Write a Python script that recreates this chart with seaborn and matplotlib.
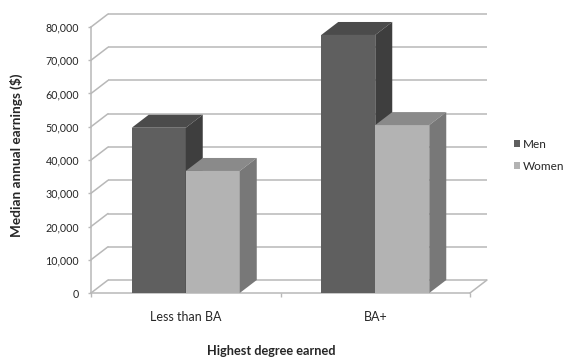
import numpy as np
import pandas as pd
import matplotlib
matplotlib.use('Agg')
import matplotlib.pyplot as plt
from matplotlib.patches import Polygon, Patch
import seaborn as sns

# chart data
degrees = ['Less than BA', 'BA+']
men = [49700, 77600]
women = [36700, 50500]
y_ticks = list(range(0, 80001, 10000))

FRONT = ['#5f5f5f', '#b3b3b3']
TOP = ['#4b4b4b', '#8a8a8a']
SIDE = ['#3e3e3e', '#787878']
GRID = '#b8b8b8'
TEXT = '#262626'

df = pd.DataFrame({'degree': degrees * 2,
                   'sex': ['Men'] * 2 + ['Women'] * 2,
                   'earnings': men + women})

sns.set_style('white')
plt.rcParams['font.family'] = ['Lato', 'DejaVu Sans']

fig = plt.figure(figsize=(5.64, 3.6), dpi=100)
ax = fig.add_axes([91 / 564, 1 - 293 / 360, 379 / 564, 266 / 360])

sns.barplot(data=df, x='degree', y='earnings', hue='sex', palette=FRONT,
            saturation=1, width=0.57, ax=ax, legend=False, linewidth=0)
ax.set_xlim(-0.5, 1.5)
ax.set_ylim(0, 80000)

# depth offset of the 3d box, from pixels to data units
inv = ax.transData.inverted()
p0 = inv.transform((0, 0))
p1 = inv.transform((17, 13))
DX, DY = p1[0] - p0[0], p1[1] - p0[1]

x_lo, x_hi = ax.get_xlim()

# back wall gridlines + left connectors
for v in y_ticks:
    ax.plot([x_lo + DX, x_hi + DX], [v + DY, v + DY], color=GRID, lw=1.1,
            zorder=0.5, clip_on=False, solid_capstyle='butt')
    ax.plot([x_lo, x_lo + DX], [v, v + DY], color=GRID, lw=1.1,
            zorder=0.5, clip_on=False)
# floor right edge
ax.plot([x_hi, x_hi + DX], [0, DY], color=GRID, lw=1.1, zorder=0.5, clip_on=False)

# extrude bars: top and side faces
n = len(degrees)
for i, bar in enumerate(ax.patches):
    k = i // n
    z = 2 + k
    bar.set_zorder(z)
    x0, w, h = bar.get_x(), bar.get_width(), bar.get_height()
    top = [(x0, h), (x0 + w, h), (x0 + w + DX, h + DY), (x0 + DX, h + DY)]
    side = [(x0 + w, 0), (x0 + w, h), (x0 + w + DX, h + DY), (x0 + w + DX, DY)]
    ax.add_patch(Polygon(top, closed=True, facecolor=TOP[k], edgecolor='none',
                         zorder=z, clip_on=False))
    ax.add_patch(Polygon(side, closed=True, facecolor=SIDE[k], edgecolor='none',
                         zorder=z, clip_on=False))

# axes styling
sns.despine(ax=ax, top=True, right=True)
for s in ['left', 'bottom']:
    ax.spines[s].set_color(GRID)
    ax.spines[s].set_linewidth(1.1)
    ax.spines[s].set_zorder(0.6)

ax.set_yticks(y_ticks)
ax.set_yticklabels([f'{v:,}' for v in y_ticks])
ax.tick_params(axis='y', length=2.5, width=1, color=GRID, pad=6, labelsize=7.7, labelcolor=TEXT, left=True)
ax.set_xticks(range(n))
ax.set_xticklabels(degrees)
ax.tick_params(axis='x', length=0, pad=13, labelsize=9, labelcolor=TEXT)
ax.set_xticks([-0.5, 0.5, 1.5], minor=True)
ax.tick_params(axis='x', which='minor', length=3, width=1, color=GRID, bottom=True)

ax.set_xlabel('Highest degree earned', fontsize=9.2, fontweight='bold', color=TEXT)
ax.xaxis.set_label_coords((271 - 91) / 379, (293 - 345) / 266)
ax.set_ylabel('Median annual earnings ($)', fontsize=9.8, fontweight='bold', color=TEXT)
ax.yaxis.set_label_coords((23 - 91) / 379, (293 - 155.5) / 266)

handles = [Patch(facecolor=FRONT[0], edgecolor='none'), Patch(facecolor=FRONT[1], edgecolor='none')]
fig.legend(handles, ['Men', 'Women'], loc='upper left', bbox_to_anchor=(508 / 564, 1 - 133 / 360),
           frameon=False, fontsize=8.5, handlelength=0.55, handleheight=0.55, handletextpad=0.2,
           labelspacing=0.95, borderpad=0, labelcolor=TEXT)

fig.savefig('out.png', dpi=100)
